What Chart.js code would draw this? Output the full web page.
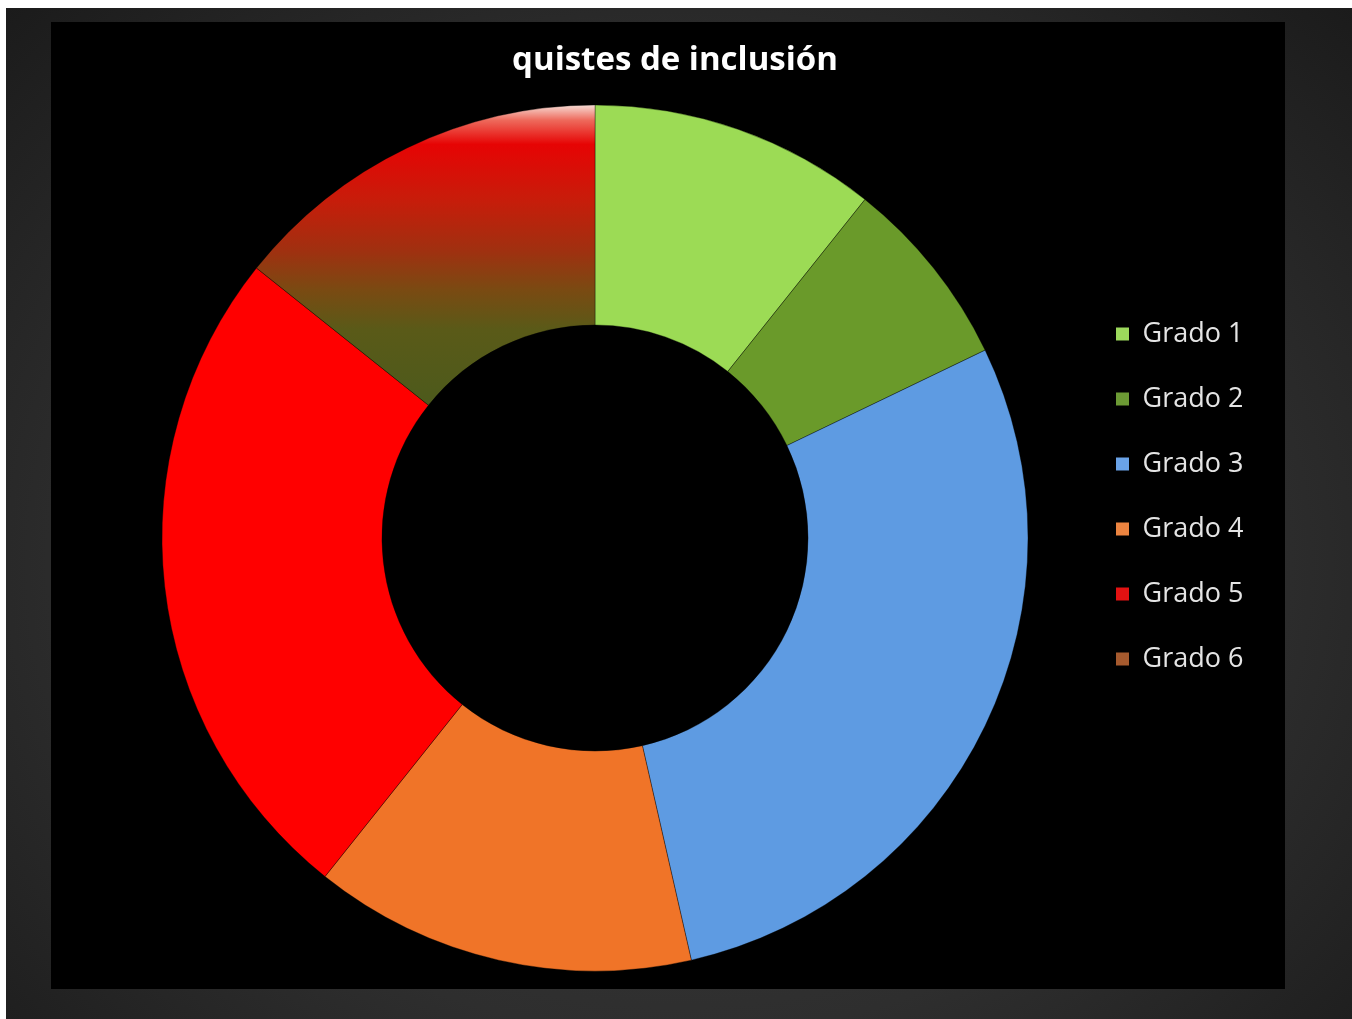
<!DOCTYPE html>
<html>
<head>
<meta charset="utf-8">
<title>quistes de inclusión</title>
<script src="https://cdn.jsdelivr.net/npm/chart.js@4/dist/chart.umd.min.js"></script>
<style>
  html, body { margin: 0; padding: 0; background: #fff; }
  body { width: 1352px; height: 1019px; position: relative; overflow: hidden; }
  .frame {
    position: absolute; left: 6px; top: 8px; right: 0; bottom: 0;
    background: radial-gradient(ellipse at 50% 55%, #3e3e3e 0%, #2e2e2e 60%, #1b1b1b 100%);
  }
  .panel {
    position: absolute; left: 51px; top: 22px; width: 1234px; height: 967px;
    background: #000;
  }
  canvas { display: block; }
</style>
</head>
<body>
<div class="frame"></div>
<div class="panel"><canvas id="quistesChart" width="1234" height="967"></canvas></div>
<script>
// quistes de inclusión por grado
const grados = ['Grado 1', 'Grado 2', 'Grado 3', 'Grado 4', 'Grado 5', 'Grado 6'];
const casos = [3, 2, 8, 4, 7, 4];

const sliceColors = ['#9cdb55', '#6a9a2a', '#5e9be2', '#f07428', '#ff0000', null];
const legendColors = ['#9cd95c', '#6c9a34', '#6aa3e8', '#ec8440', '#e31212', '#a65a2e'];

// Grado 6 is filled with a red-to-olive vertical gradient with a light gloss on top
function grado6Gradient(chart) {
    const area = chart.chartArea;
    if (!area) return '#a65a2e';
    const cy = (area.top + area.bottom) / 2;
    const g = chart.ctx.createLinearGradient(0, cy - 433, 0, cy - 130);
    g.addColorStop(0, '#f6dcd4');
    g.addColorStop(0.05, '#ee6a5c');
    g.addColorStop(0.13, '#e60404');
    g.addColorStop(0.31, '#c81c0a');
    g.addColorStop(0.48, '#a03010');
    g.addColorStop(0.61, '#7a4a12');
    g.addColorStop(0.74, '#5a5a18');
    g.addColorStop(1, '#4c5a1c');
    return g;
}

// the legend box is kept narrow so the title stays centred on the panel;
// widen its clip afterwards so the labels can run into the right margin
const legendOverflow = {
    id: 'legendOverflow',
    afterLayout(chart) {
        chart.legend.right += 30;
        chart.legend.width += 30;
    }
};

const ctx = document.getElementById('quistesChart').getContext('2d');

const quistesChart = new Chart(ctx, {
    type: 'doughnut',
    data: {
        labels: grados,
        datasets: [{
            data: casos,
            backgroundColor: (c) => c.dataIndex === 5 ? grado6Gradient(c.chart) : sliceColors[c.dataIndex],
            borderColor: 'rgba(0, 0, 0, 0.35)',
            borderWidth: 1,
            hoverOffset: 0
        }]
    },
    plugins: [legendOverflow],
    options: {
        responsive: false,
        animation: false,
        devicePixelRatio: 1,
        radius: 433,
        cutout: '49.2%',
        layout: {
            padding: { left: 61, right: 47, top: 2, bottom: 20 }
        },
        plugins: {
            title: {
                display: true,
                text: 'quistes de inclusión',
                color: '#ffffff',
                font: { family: '"Open Sans", sans-serif', size: 33, weight: 'bold' },
                padding: { top: 17, bottom: 26.4 }
            },
            legend: {
                position: 'right',
                maxWidth: 160,
                labels: {
                    color: '#e4e4e4',
                    font: { family: '"Open Sans", sans-serif', size: 27 },
                    boxWidth: 13,
                    boxHeight: 13,
                    padding: 38,
                    generateLabels: (chart) => {
                        const items = Chart.overrides.doughnut.plugins.legend.labels.generateLabels(chart);
                        items.forEach((item, i) => {
                            item.fillStyle = legendColors[i];
                            item.strokeStyle = legendColors[i];
                            item.lineWidth = 0;
                        });
                        return items;
                    }
                }
            },
            tooltip: { enabled: false }
        }
    }
});
</script>
</body>
</html>
